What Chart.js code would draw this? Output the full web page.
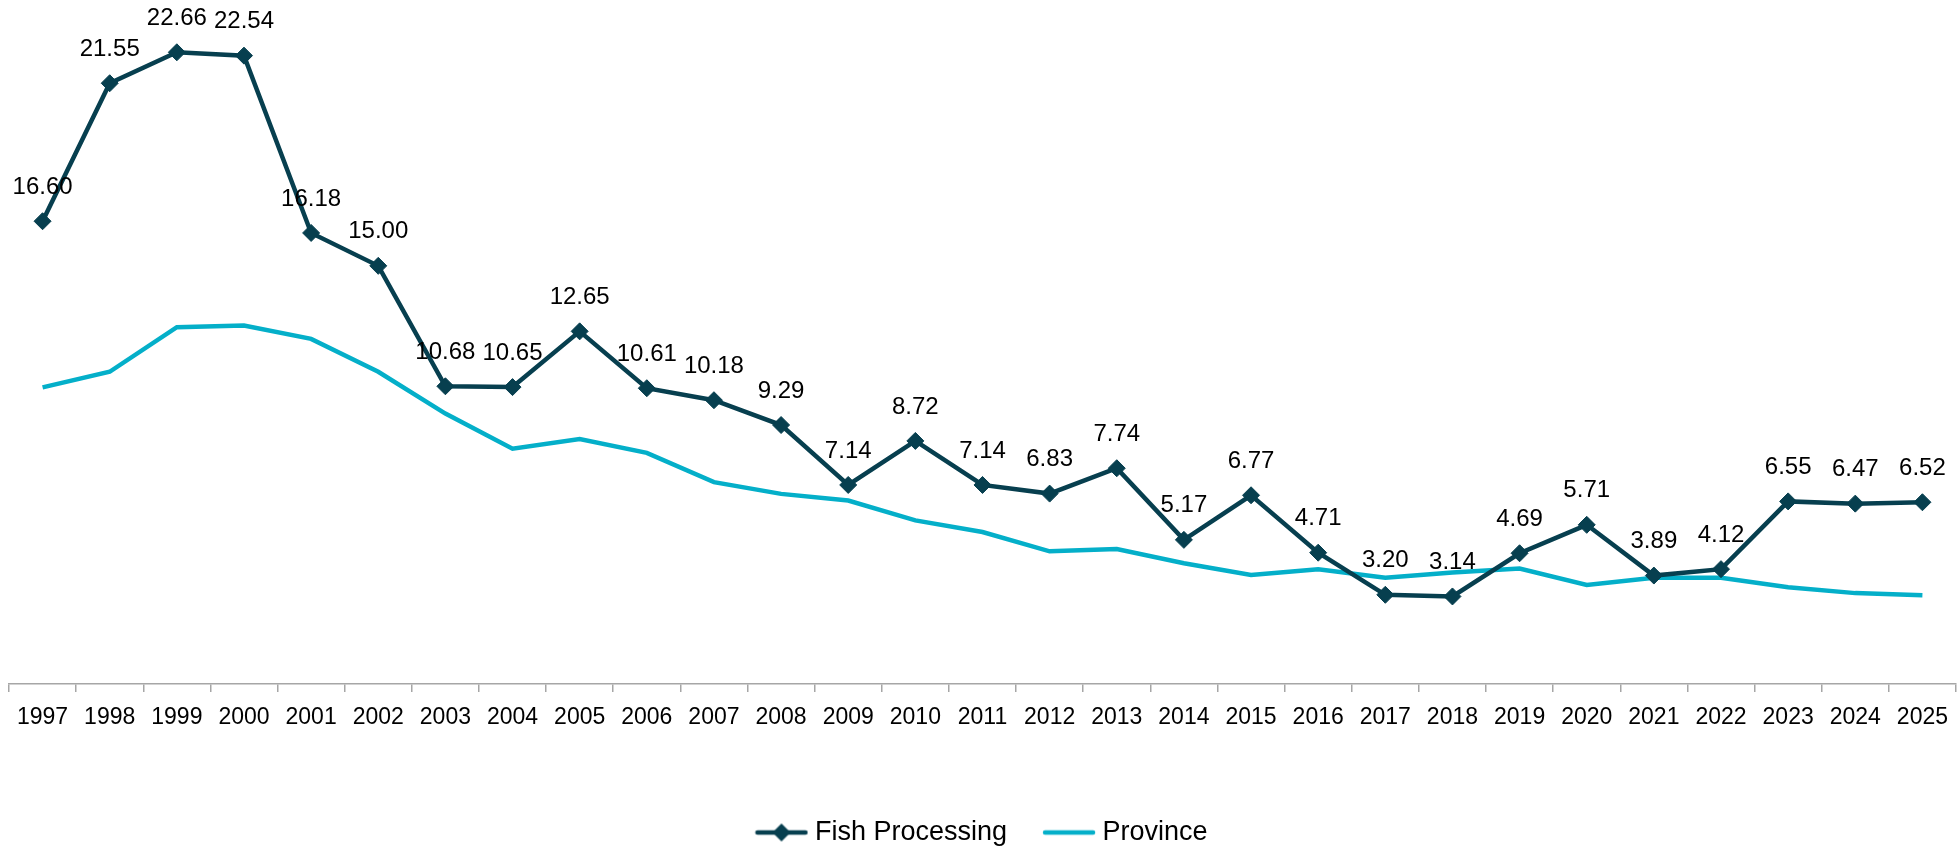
<!DOCTYPE html>
<html>
<head>
<meta charset="utf-8">
<script src="https://cdn.jsdelivr.net/npm/chart.js@4.4.1/dist/chart.umd.min.js"></script>
<style>
  html, body { margin: 0; padding: 0; background: #fff; }
  #wrap { width: 1960px; height: 846px; }
</style>
</head>
<body>
<div id="wrap"><canvas id="lineChart" width="1960" height="846"></canvas></div>
<script>
// года
const years = ['1997','1998','1999','2000','2001','2002','2003','2004','2005','2006',
  '2007','2008','2009','2010','2011','2012','2013','2014','2015','2016',
  '2017','2018','2019','2020','2021','2022','2023','2024','2025'];
// рыбопереработка (подписи с картинки)
const fishProcessing = [16.60, 21.55, 22.66, 22.54, 16.18, 15.00, 10.68, 10.65, 12.65, 10.61,
  10.18, 9.29, 7.14, 8.72, 7.14, 6.83, 7.74, 5.17, 6.77, 4.71,
  3.20, 3.14, 4.69, 5.71, 3.89, 4.12, 6.55, 6.47, 6.52];
// провинция (оценка по графику)
const province = [10.64, 11.20, 12.80, 12.86, 12.38, 11.20, 9.70, 8.44, 8.79, 8.29,
  7.24, 6.82, 6.58, 5.87, 5.45, 4.76, 4.84, 4.33, 3.91, 4.12,
  3.81, 4.00, 4.14, 3.55, 3.81, 3.81, 3.47, 3.26, 3.18];
const seriesNames = ['Fish Processing', 'Province'];

const darkColor = '#073f4f';
const cyanColor = '#04afc9';
const fontFamily = '"Liberation Sans", Arial, sans-serif';

// иконка для легенды: линия + ромб
function legendIcon(color, withDiamond){
    const c = document.createElement('canvas');
    c.width = 54; c.height = 22;
    const ctx = c.getContext('2d');
    ctx.strokeStyle = color;
    ctx.lineWidth = 4.5;
    ctx.lineCap = 'round';
    ctx.beginPath();
    ctx.moveTo(3, 11); ctx.lineTo(51, 11);
    ctx.stroke();
    if (withDiamond){
        ctx.fillStyle = color;
        ctx.beginPath();
        ctx.moveTo(27, 2); ctx.lineTo(36, 11); ctx.lineTo(27, 20); ctx.lineTo(18, 11);
        ctx.closePath();
        ctx.fill();
    }
    return c;
}

// подписи значений над точками
const valueLabels = {
    id: 'valueLabels',
    afterDatasetsDraw(chart){
        const ctx = chart.ctx;
        const meta = chart.getDatasetMeta(0);
        ctx.save();
        ctx.font = '24px ' + fontFamily;
        ctx.fillStyle = '#000';
        ctx.textAlign = 'center';
        ctx.textBaseline = 'middle';
        meta.data.forEach(function(pt, i){
            ctx.fillText(fishProcessing[i].toFixed(2), pt.x, pt.y - 34);
        });
        ctx.restore();
    }
};

const myChart = new Chart(document.getElementById('lineChart'), {
    type: 'line',
    data: {
        labels: years,
        datasets: [{
            label: seriesNames[0],
            data: fishProcessing,
            borderColor: darkColor,
            backgroundColor: darkColor,
            borderWidth: 4.5,
            pointStyle: 'rectRot',
            pointRadius: 8.5,
            pointBorderWidth: 1,
            pointBackgroundColor: darkColor,
            pointBorderColor: darkColor,
            tension: 0
        }, {
            label: seriesNames[1],
            data: province,
            borderColor: cyanColor,
            backgroundColor: cyanColor,
            borderWidth: 4.5,
            pointRadius: 0,
            tension: 0
        }]
    },
    options: {
        responsive: false,
        animation: false,
        layout: { autoPadding: false, padding: { left: 9, right: 0, top: 1, bottom: -10 } },
        scales: {
            x: {
                offset: true,
                grid: {
                    offset: true,
                    drawOnChartArea: false,
                    drawTicks: true,
                    tickLength: 8,
                    color: '#a6a6a6',
                    lineWidth: 1.5
                },
                border: { display: true, color: '#a6a6a6', width: 1.5 },
                ticks: {
                    color: '#000',
                    padding: 12,
                    maxRotation: 0,
                    autoSkip: false,
                    font: { family: fontFamily, size: 23 }
                },
                afterFit(scale){ scale.height = 93; }
            },
            y: {
                display: false,
                min: 0,
                max: 24.5
            }
        },
        plugins: {
            tooltip: { enabled: false },
            legend: {
                position: 'bottom',
                labels: {
                    color: '#000',
                    font: { family: fontFamily, size: 27 },
                    usePointStyle: true,
                    pointStyleWidth: 40,
                    padding: 42,
                    generateLabels(chart){
                        return chart.data.datasets.map(function(ds, i){
                            return {
                                text: ds.label,
                                pointStyle: legendIcon(ds.borderColor, i === 0),
                                fillStyle: ds.borderColor,
                                strokeStyle: ds.borderColor,
                                lineWidth: 0,
                                fontColor: '#000',
                                datasetIndex: i
                            };
                        });
                    }
                }
            }
        }
    },
    plugins: [valueLabels]
});
</script>
</body>
</html>
